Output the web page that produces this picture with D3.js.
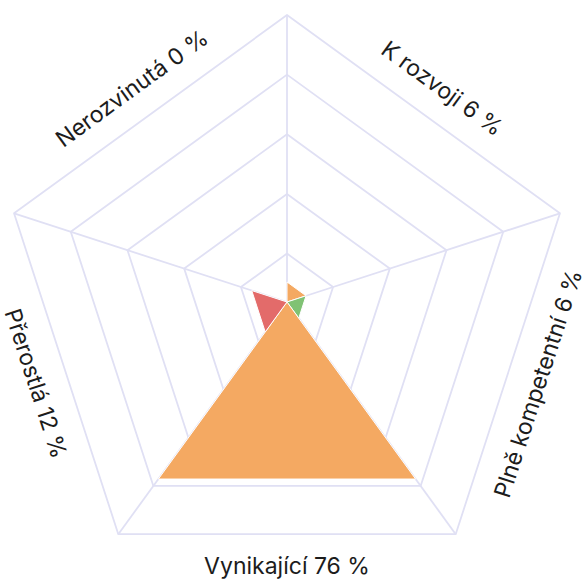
<!DOCTYPE html>
<html>
<head>
<meta charset="utf-8">
<script src="https://cdn.jsdelivr.net/npm/d3@7"></script>
<style>
  html, body { margin: 0; padding: 0; background: #fff; }
  svg { display: block; }
</style>
</head>
<body>
<div id="chart"></div>
<script>
const categories = ['Nerozvinutá', 'K rozvoji', 'Plně kompetentní', 'Vynikající', 'Přerostlá'];
const values = [0, 6, 6, 76, 12];
const colors = ['#f4a962', '#f4a962', '#80c274', '#f4a962', '#e36b6a'];
const ringValues = [16, 37, 58, 79, 100];

const width = 585, height = 581;
const cx = 287, cy = 302, R = 287;
const n = 5;

const svg = d3.select('#chart')
  .append('svg')
  .attr('width', width)
  .attr('height', height);

const g = svg.append('g').attr('transform', `translate(${cx},${cy})`);

const r = d3.scaleLinear().domain([0, 100]).range([3, R]);

// axis i at angle i*72 deg clockwise from top, sector i between axis i-1 and axis i
const axisAngle = i => (i * 2 * Math.PI) / n;
const pt = (a, rad) => [rad * Math.sin(a), -rad * Math.cos(a)];

// grid rings
g.selectAll('.ring')
  .data(ringValues)
  .enter()
  .append('polygon')
  .attr('class', 'ring')
  .attr('points', v => d3.range(n).map(i => pt(axisAngle(i), r(v)).join(',')).join(' '))
  .attr('fill', 'none')
  .attr('stroke', '#e0e0f4')
  .attr('stroke-width', 1.8)
  .attr('stroke-linejoin', 'round');

// spokes
g.selectAll('.spoke')
  .data(d3.range(n))
  .enter()
  .append('line')
  .attr('class', 'spoke')
  .attr('x1', 0).attr('y1', 0)
  .attr('x2', i => pt(axisAngle(i), R)[0])
  .attr('y2', i => pt(axisAngle(i), R)[1])
  .attr('stroke', '#e0e0f4')
  .attr('stroke-width', 1.8);

// wedges: category k spans from axis k-1 to axis k
const wedgeAxes = k => [(k + n - 1) % n, k % n];
g.selectAll('.wedge')
  .data(categories.map((c, k) => ({ c, v: values[k], color: colors[k], k })))
  .enter()
  .filter(d => d.v > 0)
  .append('path')
  .attr('class', 'wedge')
  .attr('d', d => {
    const [a0, a1] = wedgeAxes(d.k);
    const p0 = pt(axisAngle(a0), r(d.v));
    const p1 = pt(axisAngle(a1), r(d.v));
    return `M0,0L${p0}L${p1}Z`;
  })
  .attr('fill', d => d.color)
  .attr('stroke', '#fff')
  .attr('stroke-width', 1);

// labels at sector midpoints
const labelR = 264;
g.selectAll('.label')
  .data(categories.map((c, k) => ({ text: `${c} ${values[k]} %`, k })))
  .enter()
  .append('text')
  .attr('class', 'label')
  .attr('transform', d => {
    const aDeg = ((d.k - 0.5) * 360 / n + 360) % 360;
    const [x, y] = pt(aDeg * Math.PI / 180, labelR);
    let rot = aDeg;
    if (aDeg > 90 && aDeg < 270) rot = aDeg - 180;
    else if (aDeg >= 270) rot = aDeg - 360;
    return `translate(${x},${y}) rotate(${rot})`;
  })
  .attr('text-anchor', 'middle')
  .attr('dominant-baseline', 'central')
  .attr('font-family', 'Inter, "Noto Sans", sans-serif')
  .attr('font-size', 23)
  .attr('fill', '#1c1c1c')
  .text(d => d.text);
</script>
</body>
</html>
